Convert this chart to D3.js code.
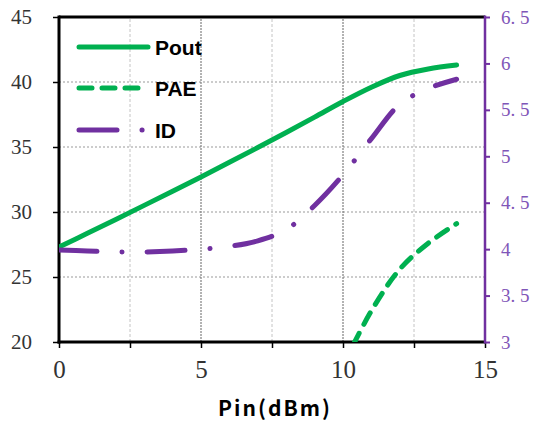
<!DOCTYPE html>
<html>
<head>
<meta charset="utf-8">
<script src="https://cdn.jsdelivr.net/npm/d3@7"></script>
<style>
  body { margin: 0; background: #fff; }
</style>
</head>
<body>
<div id="graph"></div>
<script>
// chart data
var pin = [0, 1, 2, 3, 4, 5, 6, 7, 8, 9, 10, 11, 12, 13, 14];
var pout = [27.3, 28.36, 29.43, 30.51, 31.6, 32.7, 33.82, 34.96, 36.12, 37.3, 38.5, 39.6, 40.5, 41.0, 41.3];
var paePin = [10, 11, 12, 13, 14];
var pae = [18.2, 22.4, 25.6, 27.6, 29.1];
var id = [3.99, 3.98, 3.97, 3.97, 3.98, 4.0, 4.03, 4.09, 4.21, 4.47, 4.8, 5.19, 5.56, 5.73, 5.83];

var xTicks = [0, 5, 10, 15];
var xMinor = [2.5, 7.5, 12.5];
var yLeftTicks = [20, 25, 30, 35, 40, 45];
var yRightTicks = [3, 3.5, 4, 4.5, 5, 5.5, 6, 6.5];

var legendNames = ["Pout", "PAE", "ID"];

var width = 539,
	height = 421,
	margin = {top: 17, right: 54, bottom: 79, left: 59};

var green = "#00B050",
	purple = "#7030A0";

var svg = d3.select("#graph").append("svg")
	.attr("width", width)
	.attr("height", height);

var x = d3.scaleLinear().domain([0, 15]).range([margin.left, width - margin.right]);
var yL = d3.scaleLinear().domain([20, 45]).range([height - margin.bottom, margin.top]);
var yR = d3.scaleLinear().domain([3, 6.5]).range([height - margin.bottom, margin.top]);

svg.append("clipPath").attr("id", "plot")
	.append("rect")
	.attr("x", x(0)).attr("y", yL(45))
	.attr("width", x(15) - x(0)).attr("height", yL(20) - yL(45));

// grid
var grid = svg.append("g");
grid.selectAll(".hg").data(yLeftTicks.slice(1, -1)).enter().append("line")
	.attr("x1", x(0)).attr("x2", x(15))
	.attr("y1", function(d){ return yL(d); })
	.attr("y2", function(d){ return yL(d); })
	.attr("stroke", "#999").attr("stroke-width", 1).attr("stroke-dasharray", "2,2");
grid.selectAll(".vm").data(xMinor).enter().append("line")
	.attr("x1", function(d){ return x(d); })
	.attr("x2", function(d){ return x(d); })
	.attr("y1", yL(20)).attr("y2", yL(45))
	.attr("stroke", "#c4c4c4").attr("stroke-width", 1).attr("stroke-dasharray", "3,2");
grid.selectAll(".vg").data([5, 10]).enter().append("line")
	.attr("x1", function(d){ return x(d); })
	.attr("x2", function(d){ return x(d); })
	.attr("y1", yL(20)).attr("y2", yL(45))
	.attr("stroke", "#666").attr("stroke-width", 1).attr("stroke-dasharray", "2,1");

// axes
var serif = "'Liberation Serif', 'DejaVu Serif', serif";

var xAxis = svg.append("g")
	.attr("transform", "translate(0," + yL(20) + ")")
	.call(d3.axisBottom(x).tickValues(xTicks.concat(xMinor)).tickSize(6).tickPadding(12)
		.tickFormat(function(d){ return xTicks.indexOf(d) >= 0 ? d : ""; }));
xAxis.select(".domain").remove();
xAxis.selectAll("line").attr("stroke", "#000").attr("stroke-width", 1.5);
xAxis.selectAll("text").style("font-family", serif).style("font-size", "25px").attr("fill", "#333");

var yAxisL = svg.append("g")
	.attr("transform", "translate(" + x(0) + ",0)")
	.call(d3.axisLeft(yL).tickValues(yLeftTicks).tickSize(6).tickPadding(21));
yAxisL.select(".domain").remove();
yAxisL.selectAll("line").attr("stroke", "#000").attr("stroke-width", 1.5);
yAxisL.selectAll("text").style("font-family", serif).style("font-size", "21px").attr("fill", "#333");

var yAxisR = svg.append("g")
	.attr("transform", "translate(" + x(15) + ",0)")
	.call(d3.axisRight(yR).tickValues(yRightTicks).tickSize(5).tickPadding(11)
		.tickFormat(function(d){ return String(d).replace(".", ". "); }));
yAxisR.select(".domain").remove();
yAxisR.selectAll("line").attr("stroke", purple).attr("stroke-width", 2);
yAxisR.selectAll("text").style("font-family", serif).style("font-size", "19px").attr("fill", "#7f56b8");

// frame
svg.append("line").attr("x1", x(0)).attr("x2", x(15)).attr("y1", yL(45)).attr("y2", yL(45))
	.attr("stroke", "#000").attr("stroke-width", 3);
svg.append("line").attr("x1", x(0) - 1.5).attr("x2", x(15)).attr("y1", yL(20)).attr("y2", yL(20))
	.attr("stroke", "#000").attr("stroke-width", 3);
svg.append("line").attr("x1", x(0)).attr("x2", x(0)).attr("y1", yL(45) - 1.5).attr("y2", yL(20) + 1.5)
	.attr("stroke", "#000").attr("stroke-width", 3);
svg.append("line").attr("x1", x(15)).attr("x2", x(15)).attr("y1", yL(45) - 1.5).attr("y2", yL(20) + 1.5)
	.attr("stroke", purple).attr("stroke-width", 2.5);

// series
var lineL = d3.line()
	.x(function(d){ return x(d[0]); })
	.y(function(d){ return yL(d[1]); })
	.curve(d3.curveCatmullRom);
var lineR = d3.line()
	.x(function(d){ return x(d[0]); })
	.y(function(d){ return yR(d[1]); })
	.curve(d3.curveCatmullRom);

var series = svg.append("g").attr("clip-path", "url(#plot)");

series.append("path")
	.attr("d", lineL(d3.zip(pin, pout)))
	.attr("fill", "none").attr("stroke", green).attr("stroke-width", 5)
	.attr("stroke-linecap", "round");

series.append("path")
	.attr("d", lineL(d3.zip(paePin, pae)))
	.attr("fill", "none").attr("stroke", green).attr("stroke-width", 5)
	.attr("stroke-linecap", "round").attr("stroke-dasharray", "13,10");

series.append("path")
	.attr("d", lineR(d3.zip(pin, id)))
	.attr("fill", "none").attr("stroke", purple).attr("stroke-width", 5)
	.attr("stroke-linecap", "round").attr("stroke-dasharray", "38,25,0.1,25");

// legend
var legendStyle = [
	{color: green, dash: null, y: 47},
	{color: green, dash: "13,10", y: 88},
	{color: purple, dash: "38,25,0.1,25", y: 130}
];
var legend = svg.append("g").selectAll(".leg")
	.data(legendNames).enter().append("g")
	.attr("transform", function(d, i){ return "translate(0," + legendStyle[i].y + ")"; });
legend.append("line")
	.attr("x1", 79).attr("x2", function(d, i){ return i == 2 ? 143 : 148; })
	.attr("y1", 0).attr("y2", 0)
	.attr("stroke", function(d, i){ return legendStyle[i].color; })
	.attr("stroke-width", 5).attr("stroke-linecap", "round")
	.attr("stroke-dasharray", function(d, i){ return legendStyle[i].dash; });
legend.append("text")
	.attr("x", 155).attr("y", 8)
	.attr("font-family", "'Liberation Sans', Arial, sans-serif")
	.attr("font-weight", "bold").attr("font-size", 21)
	.text(function(d){ return d; });

// x title
svg.append("text")
	.attr("x", 275).attr("y", 416)
	.attr("text-anchor", "middle")
	.attr("font-family", "'Noto Sans CJK SC', sans-serif")
	.attr("font-weight", "bold").attr("font-size", 21)
	.attr("letter-spacing", 2)
	.text("Pin(dBm)");
</script>
</body>
</html>
